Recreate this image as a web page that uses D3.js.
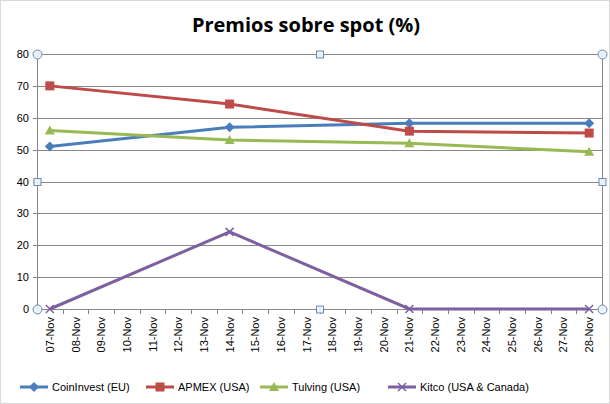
<!DOCTYPE html>
<html><head><meta charset="utf-8">
<script src="https://cdn.jsdelivr.net/npm/d3@7"></script>
<style>body{margin:0;background:#fff}svg{display:block}</style>
</head><body>
<div id="chart"></div>
<script>
// categories and series values
var dates = ["07-Nov","08-Nov","09-Nov","10-Nov","11-Nov","12-Nov","13-Nov","14-Nov","15-Nov","16-Nov","17-Nov","18-Nov","19-Nov","20-Nov","21-Nov","22-Nov","23-Nov","24-Nov","25-Nov","26-Nov","27-Nov","28-Nov"];
var pointDates = ["07-Nov","14-Nov","21-Nov","28-Nov"];
var coinInvest = [51, 57, 58.3, 58.3];
var apmex = [70, 64.3, 55.8, 55.2];
var tulving = [56, 53, 52, 49.3];
var kitco = [0, 24.2, 0, 0];
var yTicks = [0, 10, 20, 30, 40, 50, 60, 70, 80];

var series = [
    {name: "CoinInvest (EU)", values: coinInvest, color: "#4a7ebb", marker: "diamond"},
    {name: "APMEX (USA)", values: apmex, color: "#be4b48", marker: "square"},
    {name: "Tulving (USA)", values: tulving, color: "#98b954", marker: "triangle"},
    {name: "Kitco (USA & Canada)", values: kitco, color: "#7d60a0", marker: "cross"}
];

var W = 610, H = 404;
var pLeft = 37, pRight = 602, pTop = 54, pBottom = 309;

var svg = d3.select("#chart").append("svg").attr("width", W).attr("height", H)
    .style("font-family", "'Liberation Sans', Arial, sans-serif");

svg.append("rect").attr("x", 0.5).attr("y", 0.5).attr("width", W - 1).attr("height", H - 1)
    .attr("fill", "#fff").attr("stroke", "#d9d9d9");

svg.append("text").attr("x", 306).attr("y", 32).attr("text-anchor", "middle")
    .attr("font-size", 20).attr("font-weight", "bold")
    .attr("font-family", "'Open Sans', sans-serif").text("Premios sobre spot (%)");

var x = d3.scaleBand().domain(dates).range([pLeft, pRight]);
var y = d3.scaleLinear().domain([0, 80]).range([pBottom, pTop]);

// grid
svg.selectAll(".grid").data(yTicks).enter().append("line")
    .attr("x1", pLeft).attr("x2", pRight)
    .attr("y1", d => Math.round(y(d)) + 0.5).attr("y2", d => Math.round(y(d)) + 0.5)
    .attr("stroke", "#878787").attr("stroke-width", 1);

svg.append("line").attr("x1", pLeft + 0.5).attr("x2", pLeft + 0.5).attr("y1", pTop).attr("y2", pBottom + 5).attr("stroke", "#878787");
svg.append("line").attr("x1", pRight + 0.5).attr("x2", pRight + 0.5).attr("y1", pTop).attr("y2", pBottom).attr("stroke", "#878787");

// y labels
svg.selectAll(".yl").data(yTicks).enter().append("text")
    .attr("x", pLeft - 8).attr("y", d => y(d) + 4).attr("text-anchor", "end")
    .attr("font-size", 11).attr("fill", "#000").text(d => d);
svg.selectAll(".yt").data(yTicks).enter().append("line")
    .attr("x1", pLeft - 4).attr("x2", pLeft).attr("y1", d => Math.round(y(d)) + 0.5).attr("y2", d => Math.round(y(d)) + 0.5)
    .attr("stroke", "#878787");

// x ticks and labels
var xb = [pLeft].concat(dates.map(d => x(d) + x.bandwidth()));
svg.selectAll(".xt").data(xb).enter().append("line")
    .attr("x1", d => Math.round(d) + 0.5).attr("x2", d => Math.round(d) + 0.5)
    .attr("y1", pBottom).attr("y2", pBottom + 5).attr("stroke", "#878787");
svg.selectAll(".xl").data(dates).enter().append("text")
    .attr("transform", d => "translate(" + (x(d) + x.bandwidth() / 2 + 4) + "," + (pBottom + 8) + ") rotate(-90)")
    .attr("text-anchor", "end").attr("font-size", 11).text(d => d);

var cx = d => x(d) + x.bandwidth() / 2;
var line = d3.line().x((d, i) => cx(pointDates[i])).y(d => y(d));

function marker(g, type, color) {
    if (type === "diamond") g.append("path").attr("d", "M0,-5L5,0L0,5L-5,0Z").attr("fill", color);
    else if (type === "square") g.append("rect").attr("x", -4.5).attr("y", -4.5).attr("width", 9).attr("height", 9).attr("fill", color);
    else if (type === "triangle") g.append("path").attr("d", "M0,-5L5,4L-5,4Z").attr("fill", color);
    else g.append("path").attr("d", "M-4,-4L4,4M-4,4L4,-4").attr("stroke", color).attr("stroke-width", 1.5);
}

series.forEach(function(s) {
    svg.append("path").datum(s.values).attr("d", line).attr("fill", "none")
        .attr("stroke", s.color).attr("stroke-width", 3);
    s.values.forEach(function(v, i) {
        var g = svg.append("g").attr("transform", "translate(" + cx(pointDates[i]) + "," + y(v) + ")");
        marker(g, s.marker, s.color);
    });
});

// selection handles
var midX = (pLeft + pRight) / 2, midY = (pTop + pBottom) / 2;
var handles = [[pLeft, pTop, "c"], [pRight, pTop, "c"], [pLeft, pBottom, "c"], [pRight, pBottom, "c"],
    [midX, pTop, "s"], [midX, pBottom, "s"], [pLeft, midY, "s"], [pRight, midY, "s"]];
handles.forEach(function(h) {
    if (h[2] === "c") svg.append("circle").attr("cx", h[0] + 0.5).attr("cy", h[1] + 0.5).attr("r", 4.5)
        .attr("fill", "#e8f0f8").attr("stroke", "#6a8cb0");
    else svg.append("rect").attr("x", h[0] - 3).attr("y", h[1] - 3).attr("width", 7).attr("height", 7)
        .attr("fill", "#e8f0f8").attr("stroke", "#6a8cb0");
});

// legend
var lx = [20, 146, 260, 388];
series.forEach(function(s, i) {
    var g = svg.append("g").attr("transform", "translate(" + lx[i] + ",387)");
    g.append("line").attr("x1", 0).attr("x2", 28).attr("stroke", s.color).attr("stroke-width", 3);
    var m = g.append("g").attr("transform", "translate(14,0)");
    marker(m, s.marker, s.color);
    g.append("text").attr("x", 32).attr("y", 4).attr("font-size", 11).text(s.name);
});
</script>
</body></html>
